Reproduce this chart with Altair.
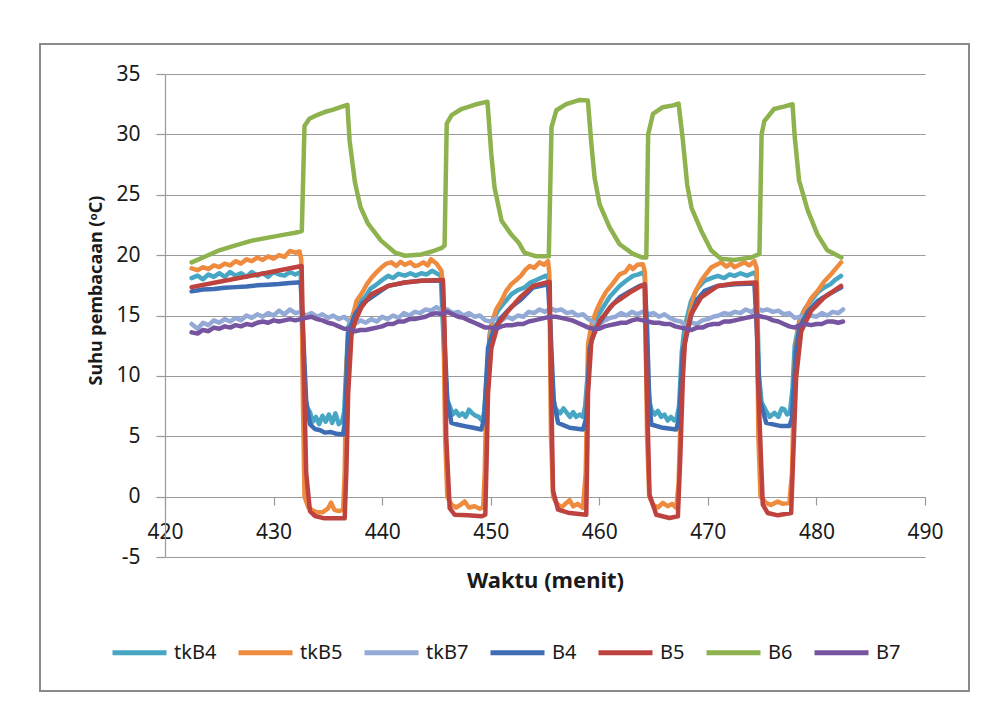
import altair as alt
import pandas as pd

# Series names (legend order) and their line colours
SERIES = ["tkB4", "tkB5", "tkB7", "B4", "B5", "B6", "B7"]
COLORS = ["#46A6C4", "#EE8B3E", "#94AAD6", "#3E6DB3", "#BE433F", "#8EB24E", "#7654A0"]

X_TICKS = [420, 430, 440, 450, 460, 470, 480, 490]
Y_TICKS = [-5, 0, 5, 10, 15, 20, 25, 30, 35]

# (time in minutes, temperature in degC) readings for each sensor
TKB4 = [
    (422.45, 18.1), (423.0, 18.3), (423.5, 18.0), (424.0, 18.4), (424.5, 18.2), (425.0, 18.5),
    (425.5, 18.2), (426.0, 18.6), (426.5, 18.3), (427.0, 18.5), (427.5, 18.2), (428.0, 18.6),
    (428.5, 18.3), (429.0, 18.5), (429.5, 18.2), (430.0, 18.6), (430.5, 18.4), (431.0, 18.3),
    (431.5, 18.6), (432.0, 18.4), (432.5, 18.6),
    (432.7, 12.0), (433.0, 7.5), (433.35, 7.0), (433.6, 6.2), (433.9, 6.6), (434.2, 6.0),
    (434.5, 6.7), (434.8, 6.2), (435.1, 6.8), (435.4, 6.1), (435.7, 6.9), (436.0, 6.0),
    (436.3, 6.2), (436.5, 7.0),
    (436.87, 14.0), (437.5, 15.5), (438.0, 16.2), (438.4, 16.5), (438.9, 17.2), (439.3, 17.45),
    (439.8, 17.8), (440.55, 18.28), (441.0, 18.1), (441.5, 18.45), (442.1, 18.3), (442.6, 18.5),
    (443.1, 18.3), (443.6, 18.5), (444.1, 18.4), (444.6, 18.7), (445.0, 18.5), (445.4, 18.3),
    (445.7, 12.0), (446.0, 8.0), (446.22, 7.5), (446.5, 6.8), (446.8, 7.1), (447.1, 6.7),
    (447.4, 6.9), (447.7, 6.6), (448.0, 7.2), (448.3, 6.9), (448.6, 6.7), (448.9, 6.6),
    (449.2, 6.3), (449.4, 7.0),
    (449.9, 13.44), (450.2, 14.6), (450.67, 15.4), (451.2, 16.0), (451.9, 16.76), (452.5, 17.1),
    (453.12, 17.32), (453.6, 17.7), (454.1, 17.9), (454.6, 18.1), (455.12, 18.3), (455.35, 18.0),
    (455.6, 10.0), (455.85, 7.5), (456.04, 7.2), (456.4, 6.9), (456.7, 7.3), (456.96, 7.0),
    (457.3, 6.6), (457.6, 7.0), (457.88, 6.6), (458.2, 6.8), (458.5, 6.6), (458.7, 7.5),
    (459.0, 11.0), (459.27, 13.44), (459.8, 14.9), (460.34, 15.66), (461.0, 16.6), (461.87, 17.45),
    (462.5, 17.9), (463.1, 18.28), (463.6, 18.4), (464.02, 18.56), (464.2, 18.2),
    (464.45, 10.0), (464.65, 7.8), (464.79, 7.22), (465.1, 6.8), (465.4, 7.1), (465.7, 6.6),
    (466.0, 6.8), (466.3, 6.3), (466.6, 6.6), (466.9, 6.3), (467.1, 6.4), (467.35, 7.5),
    (467.6, 12.0), (467.85, 14.0), (468.46, 16.21), (469.0, 17.2), (469.69, 17.87), (470.3, 18.1),
    (470.92, 18.28), (471.5, 18.1), (472.0, 18.4), (472.45, 18.28), (473.0, 18.5), (473.6, 18.3),
    (474.29, 18.56), (474.5, 18.2),
    (474.7, 10.0), (474.95, 7.8), (475.37, 7.08), (475.7, 6.6), (476.13, 6.94), (476.5, 6.6),
    (476.8, 7.3), (477.05, 7.22), (477.3, 6.8), (477.55, 6.9),
    (477.8, 9.0), (478.0, 12.5), (478.43, 14.55), (478.9, 15.5), (479.51, 16.21), (480.1, 16.9),
    (480.73, 17.32), (481.3, 17.6), (481.8, 18.0), (482.27, 18.28),
]

TKB5 = [
    (422.45, 18.9), (423.0, 18.75), (423.5, 19.0), (424.0, 18.85), (424.5, 19.15), (425.0, 19.0),
    (425.5, 19.3), (426.0, 19.15), (426.5, 19.5), (427.0, 19.3), (427.5, 19.65), (428.0, 19.5),
    (428.5, 19.8), (429.0, 19.6), (429.5, 19.9), (430.0, 19.7), (430.5, 20.0), (431.0, 19.85),
    (431.5, 20.35), (432.0, 20.2), (432.4, 20.3), (432.55, 19.6),
    (432.7, 8.0), (432.85, 0.0), (433.2, -0.9), (433.5, -1.1), (434.0, -1.3), (434.5, -1.3),
    (435.0, -1.0), (435.3, -0.5), (435.6, -1.1), (436.0, -1.2), (436.4, -1.1),
    (436.55, 2.0), (436.72, 11.2), (437.18, 14.55), (437.64, 16.2), (438.1, 16.8), (438.6, 17.6),
    (439.0, 18.1), (439.5, 18.6), (439.93, 18.97), (440.4, 19.3), (440.85, 19.4), (441.3, 19.1),
    (441.7, 19.45), (442.1, 19.2), (442.6, 19.4), (443.0, 19.1), (443.3, 19.15), (443.8, 19.4),
    (444.2, 19.15), (444.5, 19.65), (445.0, 19.3), (445.46, 18.7), (445.6, 17.5),
    (445.8, 5.0), (446.0, 0.0), (446.38, -0.66), (446.8, -0.9), (447.2, -0.7), (447.6, -0.4),
    (448.0, -0.9), (448.5, -0.8), (449.0, -1.0), (449.3, -0.9),
    (449.45, 2.0), (449.6, 8.5), (450.06, 14.27), (450.5, 15.5), (450.98, 16.2), (451.4, 17.0),
    (451.9, 17.6), (452.3, 17.9), (452.8, 18.3), (453.2, 18.8), (453.6, 19.1), (454.0, 18.95),
    (454.5, 19.4), (454.9, 19.2), (455.28, 19.5), (455.4, 18.5),
    (455.55, 5.0), (455.75, 0.0), (456.04, -0.52), (456.5, -0.9), (457.0, -0.5), (457.27, -0.3),
    (457.6, -0.8), (458.0, -0.6), (458.5, -0.94),
    (458.75, 2.0), (458.96, 12.6), (459.3, 14.3), (459.73, 15.4), (460.2, 16.3), (460.65, 17.0),
    (461.2, 17.6), (461.87, 18.4), (462.4, 18.6), (462.8, 19.1), (463.1, 18.85), (463.5, 19.2),
    (464.02, 19.25), (464.2, 18.6),
    (464.4, 5.0), (464.6, 0.0), (464.94, -0.66), (465.4, -0.9), (465.86, -0.52), (466.3, -0.8),
    (466.7, -0.6), (467.09, -0.94),
    (467.3, 1.0), (467.6, 10.0), (467.85, 12.6), (468.3, 15.0), (468.8, 16.9), (469.38, 17.87),
    (469.8, 18.4), (470.3, 18.97), (470.8, 19.2), (471.22, 19.4), (471.7, 19.05), (472.1, 19.3),
    (472.45, 19.0), (472.9, 19.2), (473.37, 19.4), (473.8, 19.15), (474.29, 19.5), (474.5, 18.9),
    (474.65, 5.0), (474.85, 0.0), (475.37, -0.52), (475.8, -0.7), (476.44, -0.4), (476.9, -0.6),
    (477.51, -0.52),
    (477.75, 2.0), (478.0, 11.0), (478.3, 14.0), (478.89, 15.4), (479.5, 16.4), (480.12, 17.04),
    (480.7, 17.8), (481.35, 18.42), (481.8, 18.9), (482.27, 19.4),
]

TKB7 = [
    (422.45, 14.3), (423.0, 13.9), (423.5, 14.4), (424.0, 14.2), (424.5, 14.6), (425.0, 14.4),
    (425.5, 14.7), (426.0, 14.5), (426.5, 14.8), (427.0, 14.6), (427.5, 15.0), (428.0, 14.8),
    (428.5, 15.1), (429.0, 14.9), (429.5, 15.2), (430.0, 15.0), (430.5, 15.4), (431.0, 15.1),
    (431.5, 15.5), (432.0, 15.2), (432.5, 15.3), (433.0, 15.0), (433.5, 15.2), (434.0, 14.9),
    (434.5, 15.1), (435.0, 14.8), (435.5, 15.0), (436.0, 14.7), (436.5, 14.9), (437.0, 14.5),
    (437.5, 14.3), (438.0, 14.6), (438.5, 14.4), (439.0, 14.7), (439.5, 14.5), (440.0, 14.9),
    (440.5, 14.7), (441.0, 15.0), (441.5, 14.8), (442.0, 15.2), (442.5, 15.0), (443.0, 15.3),
    (443.5, 15.2), (444.0, 15.5), (444.5, 15.4), (445.0, 15.7), (445.5, 15.4), (446.0, 15.5),
    (446.5, 15.2), (447.0, 15.3), (447.5, 15.0), (448.0, 15.2), (448.5, 14.9), (449.0, 15.0),
    (449.5, 14.6), (450.0, 14.5), (450.5, 14.8), (451.0, 14.6), (451.5, 14.9), (452.0, 14.7),
    (452.5, 15.0), (453.0, 14.9), (453.5, 15.3), (454.0, 15.2), (454.5, 15.5), (455.0, 15.3),
    (455.5, 15.6), (456.0, 15.4), (456.5, 15.5), (457.0, 15.2), (457.5, 15.3), (458.0, 15.0),
    (458.5, 15.1), (459.0, 14.7), (459.5, 14.4), (460.0, 14.3), (460.5, 14.6), (461.0, 14.8),
    (461.5, 14.9), (462.0, 15.2), (462.5, 15.0), (463.0, 15.3), (463.5, 15.1), (464.0, 15.3),
    (464.5, 15.1), (465.0, 15.2), (465.5, 14.9), (466.0, 15.1), (466.5, 14.8), (467.0, 14.6),
    (467.5, 14.5), (468.0, 14.2), (468.5, 14.4), (469.0, 14.3), (469.5, 14.6), (470.0, 14.7),
    (470.5, 14.9), (471.0, 15.0), (471.5, 15.2), (472.0, 15.1), (472.5, 15.3), (473.0, 15.2),
    (473.5, 15.5), (474.0, 15.3), (474.5, 15.6), (475.0, 15.4), (475.5, 15.5), (476.0, 15.3),
    (476.5, 15.4), (477.0, 15.1), (477.5, 15.2), (478.0, 14.8), (478.5, 14.9), (479.0, 14.8),
    (479.5, 15.0), (480.0, 14.9), (480.5, 15.2), (481.0, 15.0), (481.5, 15.3), (482.0, 15.2),
    (482.45, 15.5),
]

B4 = [
    (422.45, 17.0), (423.5, 17.15), (424.5, 17.2), (425.5, 17.3), (426.5, 17.35), (427.5, 17.4),
    (428.5, 17.5), (429.5, 17.55), (430.5, 17.6), (431.5, 17.7), (432.5, 17.75),
    (432.7, 14.0), (433.0, 8.0), (433.35, 6.0), (433.8, 5.6), (434.3, 5.5), (434.72, 5.3),
    (435.3, 5.35), (435.8, 5.2), (436.4, 5.15), (436.55, 6.0),
    (436.87, 13.44), (437.5, 15.1), (438.2, 16.0), (439.0, 16.5), (439.8, 17.0), (440.55, 17.45),
    (442.08, 17.73), (443.6, 17.87), (445.5, 17.9),
    (445.7, 14.0), (446.0, 8.0), (446.38, 6.11), (447.0, 5.95), (447.6, 5.84), (448.4, 5.7),
    (449.14, 5.56), (449.4, 6.5),
    (449.75, 12.3), (450.3, 13.9), (450.98, 14.83), (451.9, 15.7), (452.82, 16.35), (453.9, 17.32),
    (455.28, 17.59),
    (455.5, 14.0), (455.8, 8.0), (456.2, 6.11), (457.27, 5.7), (458.5, 5.56), (458.8, 6.5),
    (459.11, 12.3), (459.6, 13.8), (460.34, 14.83), (461.0, 15.7), (461.87, 16.49), (462.8, 17.0),
    (463.71, 17.45), (464.2, 17.55),
    (464.4, 14.0), (464.6, 8.0), (464.79, 5.97), (465.86, 5.7), (467.09, 5.56), (467.35, 6.5),
    (467.7, 12.0), (468.0, 13.16), (468.46, 15.0), (469.0, 16.3), (469.69, 17.04), (470.92, 17.45),
    (472.45, 17.59), (474.29, 17.65),
    (474.5, 14.0), (474.8, 8.0), (475.37, 6.11), (476.75, 5.84), (477.51, 5.84), (477.75, 6.5),
    (478.1, 12.0), (478.43, 14.0), (479.2, 15.3), (480.12, 16.21), (481.2, 16.8), (482.27, 17.32),
]

B5 = [
    (422.45, 17.35), (425.0, 17.8), (428.0, 18.3), (430.0, 18.65), (432.58, 19.1),
    (432.8, 10.0), (433.0, 2.0), (433.35, -1.2), (433.8, -1.6), (434.7, -1.8), (435.6, -1.8),
    (436.55, -1.8),
    (436.7, 2.0), (436.87, 8.5), (437.18, 13.4), (437.5, 14.5), (438.1, 15.7), (439.0, 16.75),
    (440.55, 17.45), (442.08, 17.73), (443.6, 17.87), (445.6, 17.95),
    (445.75, 14.0), (445.9, 5.0), (446.22, -0.95), (446.68, -1.5), (447.9, -1.55), (449.14, -1.63),
    (449.5, -1.5),
    (449.62, 3.0), (449.75, 8.5), (450.06, 12.3), (450.67, 14.27), (451.6, 15.38), (452.7, 16.5),
    (453.9, 17.45), (455.43, 17.8),
    (455.55, 10.0), (455.74, 0.5), (456.2, -1.08), (457.27, -1.36), (458.8, -1.5),
    (458.9, 4.0), (458.96, 8.5), (459.27, 12.9), (460.03, 14.55), (461.26, 15.93), (462.8, 16.9),
    (464.17, 17.6),
    (464.35, 10.0), (464.63, 0.16), (465.25, -1.5), (466.47, -1.77), (467.24, -1.63),
    (467.45, 3.0), (467.7, 9.85), (467.9, 13.0), (468.46, 15.1), (469.38, 16.5), (470.92, 17.45),
    (472.45, 17.65), (474.45, 17.73),
    (474.6, 10.0), (475.06, -0.66), (475.52, -1.36), (476.44, -1.55), (477.67, -1.36),
    (477.85, 3.0), (478.13, 9.85), (478.6, 13.7), (479.5, 15.38), (480.73, 16.5), (482.27, 17.45),
]

B6 = [
    (422.45, 19.4), (423.5, 19.8), (425.0, 20.4), (426.5, 20.8), (428.0, 21.2), (429.5, 21.45),
    (431.0, 21.7), (432.0, 21.85), (432.6, 22.0),
    (432.85, 30.7), (433.3, 31.3), (434.0, 31.6), (434.7, 31.85), (435.5, 32.05), (436.3, 32.3),
    (436.8, 32.45),
    (437.0, 29.5), (437.5, 26.0), (438.0, 24.0), (438.7, 22.6), (439.9, 21.2), (441.2, 20.2),
    (442.1, 19.95), (443.6, 20.05), (444.6, 20.3), (445.5, 20.6), (445.75, 20.8),
    (445.95, 30.9), (446.4, 31.6), (447.3, 32.1), (448.5, 32.45), (449.4, 32.65), (449.7, 32.7),
    (450.05, 28.4), (450.35, 25.6), (451.0, 22.85), (451.9, 21.7), (452.6, 21.0), (453.1, 20.2),
    (454.2, 19.9), (455.35, 19.9),
    (455.6, 30.6), (456.05, 32.0), (456.95, 32.5), (458.2, 32.85), (458.95, 32.8),
    (459.27, 29.2), (459.57, 26.4), (460.03, 24.2), (460.95, 22.3), (461.87, 20.9), (463.1, 20.1),
    (464.0, 19.8), (464.33, 19.8),
    (464.5, 30.0), (464.95, 31.7), (465.85, 32.25), (466.8, 32.4), (467.3, 32.55),
    (467.7, 29.5), (468.1, 25.8), (468.5, 23.9), (469.4, 22.0), (470.3, 20.4), (471.2, 19.7),
    (472.4, 19.6), (474.0, 19.8), (474.75, 20.1),
    (474.95, 30.0), (475.2, 31.1), (476.1, 32.1), (477.0, 32.3), (477.8, 32.5),
    (478.0, 29.8), (478.4, 26.2), (479.2, 23.7), (480.1, 21.7), (481.0, 20.4), (482.3, 19.8),
]

B7 = [
    (422.45, 13.6), (423.0, 13.5), (423.5, 13.8), (424.0, 13.7), (424.5, 14.0), (425.0, 13.9),
    (425.5, 14.1), (426.0, 14.0), (426.5, 14.2), (427.0, 14.1), (427.5, 14.3), (428.0, 14.2),
    (428.5, 14.4), (429.0, 14.5), (429.5, 14.4), (430.0, 14.6), (430.5, 14.5), (431.0, 14.6),
    (431.5, 14.7), (432.0, 14.6), (432.5, 14.7), (433.0, 14.8), (433.5, 14.9), (434.0, 14.7),
    (434.5, 14.6), (435.0, 14.4), (435.5, 14.3), (436.0, 14.1), (436.5, 13.9), (437.0, 13.9),
    (437.5, 13.7), (438.0, 13.8), (438.5, 13.8), (439.0, 13.9), (439.5, 14.0), (440.0, 14.1),
    (440.5, 14.3), (441.0, 14.3), (441.5, 14.5), (442.0, 14.5), (442.5, 14.7), (443.0, 14.7),
    (443.5, 14.8), (444.0, 14.9), (444.5, 15.1), (445.0, 15.2), (445.5, 15.1), (446.0, 15.3),
    (446.5, 15.1), (447.0, 14.9), (447.5, 14.8), (448.0, 14.6), (448.5, 14.4), (449.0, 14.2),
    (449.5, 14.0), (450.0, 14.0), (450.5, 13.9), (451.0, 14.1), (451.5, 14.2), (452.0, 14.2),
    (452.5, 14.3), (453.0, 14.3), (453.5, 14.5), (454.0, 14.6), (454.5, 14.7), (455.0, 14.8),
    (455.5, 14.9), (456.0, 14.9), (456.5, 14.8), (457.0, 14.7), (457.5, 14.6), (458.0, 14.4),
    (458.5, 14.2), (459.0, 14.0), (459.5, 13.9), (460.0, 13.9), (460.5, 14.1), (461.0, 14.2),
    (461.5, 14.3), (462.0, 14.4), (462.5, 14.4), (463.0, 14.6), (463.5, 14.7), (464.0, 14.6),
    (464.5, 14.5), (465.0, 14.4), (465.5, 14.4), (466.0, 14.3), (466.5, 14.3), (467.0, 14.1),
    (467.5, 14.0), (468.0, 13.9), (468.5, 13.8), (469.0, 14.0), (469.5, 14.0), (470.0, 14.2),
    (470.5, 14.3), (471.0, 14.3), (471.5, 14.5), (472.0, 14.5), (472.5, 14.6), (473.0, 14.7),
    (473.5, 14.8), (474.0, 14.9), (474.5, 15.0), (475.0, 14.9), (475.5, 14.8), (476.0, 14.6),
    (476.5, 14.5), (477.0, 14.3), (477.5, 14.1), (478.0, 14.0), (478.5, 14.2), (479.0, 14.3),
    (479.5, 14.2), (480.0, 14.3), (480.5, 14.3), (481.0, 14.5), (481.5, 14.5), (482.0, 14.4),
    (482.45, 14.5),
]

READINGS = [TKB4, TKB5, TKB7, B4, B5, B6, B7]

rows = []
for name, pts in zip(SERIES, READINGS):
    for t, v in pts:
        rows.append({"series": name, "t": t, "v": v})
df = pd.DataFrame(rows)

FONT = "Noto Sans"
TEXT = "#1a1a1a"
GRID = "#9a9a9a"

lines = alt.Chart(df).mark_line(
    strokeWidth=4.5, strokeJoin="round", strokeCap="round"
).encode(
    x=alt.X(
        "t:Q",
        scale=alt.Scale(domain=[420, 490], nice=False, zero=False),
        axis=alt.Axis(
            values=X_TICKS, title="Waktu (menit)", offset=-60, grid=False,
            tickSize=8, labelPadding=16, labelFlush=False, labelOverlap=False,
            titleY=73, titleBaseline="top",
        ),
    ),
    y=alt.Y(
        "v:Q",
        scale=alt.Scale(domain=[-5, 35], nice=False, zero=False),
        axis=alt.Axis(
            values=Y_TICKS, title="Suhu pembacaan (ᵒC)", grid=True,
            tickSize=9, labelPadding=16, labelFlush=False, labelOverlap=False,
            labelExpr="datum.value + ''",
            titleX=-69, titleY=216, titleBaseline="middle", titleFontSize=18,
        ),
    ),
    color=alt.Color(
        "series:N",
        sort=SERIES,
        scale=alt.Scale(domain=SERIES, range=COLORS),
        legend=alt.Legend(
            title=None, orient="none", legendX=-55, legendY=549,
            direction="horizontal", columns=7, gridAlign="each", symbolType="stroke",
            symbolSize=2916, symbolStrokeWidth=5, labelFont=FONT,
            labelFontSize=20, labelColor=TEXT, labelOffset=5, columnPadding=11,
        ),
    ),
)

# grey frame around the whole chart
frame = alt.Chart(pd.DataFrame({"k": [0]})).mark_rect(
    fill="transparent", stroke="#8a8a8a", strokeWidth=2
).encode(
    x=alt.value(-125), x2=alt.value(804), y=alt.value(-30), y2=alt.value(617)
)

chart = alt.layer(frame, lines).properties(
    width=760, height=483,
    padding={"left": 39, "top": 43, "right": 36, "bottom": 35},
    background="white",
).configure_view(
    strokeWidth=0
).configure_axis(
    labelFont=FONT, labelFontSize=21, labelColor=TEXT,
    titleFont=FONT, titleFontSize=22, titleFontWeight="bold", titleColor=TEXT,
    domainColor=GRID, tickColor=GRID, gridColor=GRID, domainWidth=1.2,
    gridWidth=1.2, tickWidth=1.2,
)

chart.save("out.html", embed_options={"renderer": "svg", "actions": False})
